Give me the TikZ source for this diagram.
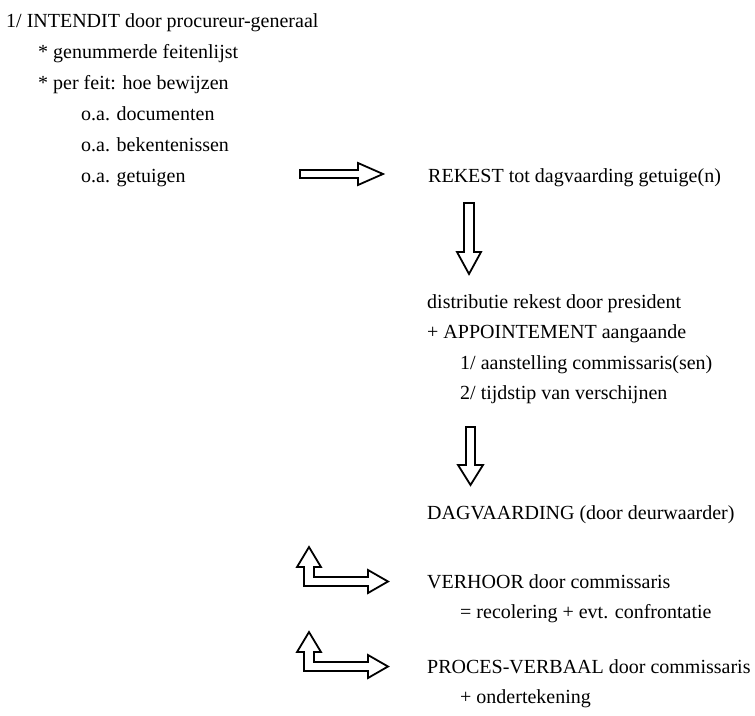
\documentclass[tikz,border=0pt]{standalone}
\usepackage{fontspec}
\setmainfont{Liberation Serif}
\begin{document}
\begin{tikzpicture}[x=1pt,y=-1pt,
  txt/.style={anchor=base west,inner sep=0pt,font=\fontsize{20}{24}\selectfont},
  blockarrow/.style={draw=black,line width=1.8pt,fill=white,line join=miter}]
\useasboundingbox (0,0) rectangle (755,715);
% left column
\node[txt] (l1) at (6,27) {1/ INTENDIT door procureur-generaal};
\node[txt] (l2) at (38,58) {* genummerde feitenlijst};
\node[txt] (l3) at (38,89) {* per feit: hoe bewijzen};
\node[txt] (l4) at (81,120) {o.a. documenten};
\node[txt] (l5) at (81,151) {o.a. bekentenissen};
\node[txt] (l6) at (81,182) {o.a. getuigen};
% right column
\node[txt] (r1) at (428,182) {REKEST tot dagvaarding getuige(n)};
\node[txt] (r2) at (427,308) {distributie rekest door president};
\node[txt] (r3) at (427,338) {+ APPOINTEMENT aangaande};
\node[txt] (r4) at (460,369) {1/ aanstelling commissaris(sen)};
\node[txt] (r5) at (460,399) {2/ tijdstip van verschijnen};
\node[txt] (r6) at (427,519) {DAGVAARDING (door deurwaarder)};
\node[txt] (r7) at (427,588) {VERHOOR door commissaris};
\node[txt] (r8) at (460,618) {= recolering + evt. confrontatie};
\node[txt] (r9) at (427,673) {PROCES-VERBAAL door commissaris};
\node[txt] (r10) at (460,703) {+ ondertekening};
% right arrow
\draw[blockarrow] (300,170) -- (358,170) -- (358,163) -- (383,174) -- (358,185) -- (358,178) -- (300,178) -- cycle;
% down arrow 1
\draw[blockarrow] (464,203) -- (474,203) -- (474,252) -- (481,252) -- (469,274) -- (457,252) -- (464,252) -- cycle;
% down arrow 2
\draw[blockarrow] (466,427) -- (475,427) -- (475,465) -- (483,465) -- (470.5,485) -- (458,465) -- (466,465) -- cycle;
% L arrows
\foreach \dy in {0,85}{
\draw[blockarrow,yshift=-\dy pt] (309,547) -- (321,567) -- (314,567) -- (314,577) -- (368,577) -- (368,570) -- (388,581.5) -- (368,593) -- (368,586) -- (304,586) -- (304,567) -- (297,567) -- cycle;
}
\end{tikzpicture}
\end{document}
